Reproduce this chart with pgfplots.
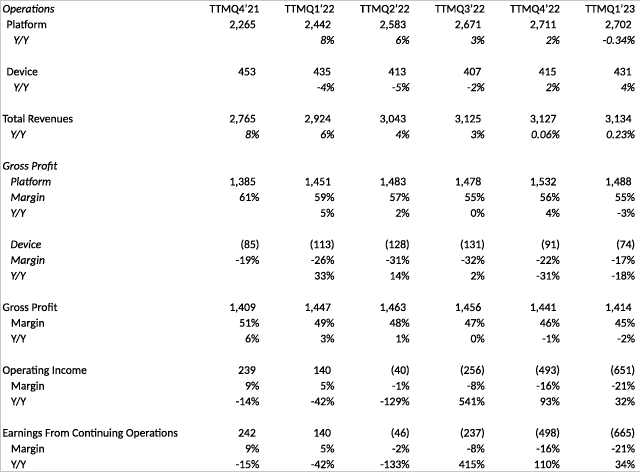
\documentclass[border=0pt]{standalone}
\usepackage{fontspec}
\setmainfont{Carlito}[FakeBold=0.25]
\usepackage{pgfplots}
\pgfplotsset{compat=1.18}
\definecolor{rule}{HTML}{C6C6C6}

% one style for the table cells: text nodes put by nodes near coords
\pgfplotsset{
  cellbase/.style={only marks, mark=none, forget plot,
    nodes near coords, point meta=explicit symbolic,
    every node near coord/.append style={inner sep=0pt, outer sep=0pt,
      text=black, font=\fontsize{11.6bp}{14bp}\selectfont#1}},
  lab/.style={cellbase=\upshape, every node near coord/.append style={anchor=base west}},
  labit/.style={cellbase=\itshape, every node near coord/.append style={anchor=base west}},
  val/.style={cellbase=\upshape, every node near coord/.append style={anchor=base east}},
  valit/.style={cellbase=\itshape, every node near coord/.append style={anchor=base east}},
}

\begin{document}
\begin{tikzpicture}
\begin{axis}[
    width=640bp, height=473bp, scale only axis,
    xmin=0, xmax=640, ymin=0, ymax=473,
    y dir=reverse,
    hide axis, clip=false,
]
% row labels
\addplot[labit] coordinates {
  (2.5,12.5)[Operations]
  (13.5,43.9)[Y/Y]
  (13.5,91.1)[Y/Y]
  (10.5,138.3)[Y/Y]
  (2.5,169.7)[Gross Profit]
  (10.5,185.4)[Platform]
  (10.5,201.1)[Margin]
  (10.5,216.9)[Y/Y]
  (10.5,248.3)[Device]
  (10.5,264.0)[Margin]
  (10.5,279.7)[Y/Y]
};
\addplot[lab] coordinates {
  (6.5,28.2)[Platform]
  (6.5,75.4)[Device]
  (2.5,122.5)[Total Revenues]
  (2.5,311.2)[Gross Profit]
  (11,326.9)[Margin]
  (11,342.6)[Y/Y]
  (2.5,374.1)[Operating Income]
  (11,389.8)[Margin]
  (11,405.5)[Y/Y]
  (2.5,436.9)[Earnings From Continuing Operations]
  (11,452.7)[Margin]
  (11,468.4)[Y/Y]
};
% column heads
\addplot[val] coordinates {
  (259.5,12.5)[TTMQ4'21] (334.7,12.5)[TTMQ1'22] (409.9,12.5)[TTMQ2'22]
  (485.1,12.5)[TTMQ3'22] (560.3,12.5)[TTMQ4'22] (635.5,12.5)[TTMQ1'23]
};
% plain numbers (room kept for the closing parenthesis)
\addplot[val] coordinates {
  (256,28.2)[2,265] (331.2,28.2)[2,442] (406.4,28.2)[2,583] (481.6,28.2)[2,671] (556.8,28.2)[2,711] (632,28.2)[2,702]
  (256,75.4)[453] (331.2,75.4)[435] (406.4,75.4)[413] (481.6,75.4)[407] (556.8,75.4)[415] (632,75.4)[431]
  (256,122.5)[2,765] (331.2,122.5)[2,924] (406.4,122.5)[3,043] (481.6,122.5)[3,125] (556.8,122.5)[3,127] (632,122.5)[3,134]
  (256,185.4)[1,385] (331.2,185.4)[1,451] (406.4,185.4)[1,483] (481.6,185.4)[1,478] (556.8,185.4)[1,532] (632,185.4)[1,488]
  (256,311.2)[1,409] (331.2,311.2)[1,447] (406.4,311.2)[1,463] (481.6,311.2)[1,456] (556.8,311.2)[1,441] (632,311.2)[1,414]
  (256,374.1)[239] (331.2,374.1)[140]
  (256,436.9)[242] (331.2,436.9)[140]
};
% italic growth rows
\addplot[valit] coordinates {
  (334.7,43.9)[8\%] (409.9,43.9)[6\%] (485.1,43.9)[3\%] (560.3,43.9)[2\%] (635.5,43.9)[-0.34\%]
  (334.7,91.1)[-4\%] (409.9,91.1)[-5\%] (485.1,91.1)[-2\%] (560.3,91.1)[2\%] (635.5,91.1)[4\%]
  (259.5,138.3)[8\%] (334.7,138.3)[6\%] (409.9,138.3)[4\%] (485.1,138.3)[3\%] (560.3,138.3)[0.06\%] (635.5,138.3)[0.23\%]
};
% percents and negatives
\addplot[val] coordinates {
  (259.5,201.1)[61\%] (334.7,201.1)[59\%] (409.9,201.1)[57\%] (485.1,201.1)[55\%] (560.3,201.1)[56\%] (635.5,201.1)[55\%]
  (334.7,216.9)[5\%] (409.9,216.9)[2\%] (485.1,216.9)[0\%] (560.3,216.9)[4\%] (635.5,216.9)[-3\%]
  (259.5,248.3)[(85)] (334.7,248.3)[(113)] (409.9,248.3)[(128)] (485.1,248.3)[(131)] (560.3,248.3)[(91)] (635.5,248.3)[(74)]
  (259.5,264.0)[-19\%] (334.7,264.0)[-26\%] (409.9,264.0)[-31\%] (485.1,264.0)[-32\%] (560.3,264.0)[-22\%] (635.5,264.0)[-17\%]
  (334.7,279.7)[33\%] (409.9,279.7)[14\%] (485.1,279.7)[2\%] (560.3,279.7)[-31\%] (635.5,279.7)[-18\%]
  (259.5,326.9)[51\%] (334.7,326.9)[49\%] (409.9,326.9)[48\%] (485.1,326.9)[47\%] (560.3,326.9)[46\%] (635.5,326.9)[45\%]
  (259.5,342.6)[6\%] (334.7,342.6)[3\%] (409.9,342.6)[1\%] (485.1,342.6)[0\%] (560.3,342.6)[-1\%] (635.5,342.6)[-2\%]
  (409.9,374.1)[(40)] (485.1,374.1)[(256)] (560.3,374.1)[(493)] (635.5,374.1)[(651)]
  (259.5,389.8)[9\%] (334.7,389.8)[5\%] (409.9,389.8)[-1\%] (485.1,389.8)[-8\%] (560.3,389.8)[-16\%] (635.5,389.8)[-21\%]
  (259.5,405.5)[-14\%] (334.7,405.5)[-42\%] (409.9,405.5)[-129\%] (485.1,405.5)[541\%] (560.3,405.5)[93\%] (635.5,405.5)[32\%]
  (409.9,436.9)[(46)] (485.1,436.9)[(237)] (560.3,436.9)[(498)] (635.5,436.9)[(665)]
  (259.5,452.7)[9\%] (334.7,452.7)[5\%] (409.9,452.7)[-2\%] (485.1,452.7)[-8\%] (560.3,452.7)[-16\%] (635.5,452.7)[-21\%]
  (259.5,468.4)[-15\%] (334.7,468.4)[-42\%] (409.9,468.4)[-133\%] (485.1,468.4)[415\%] (560.3,468.4)[110\%] (635.5,468.4)[34\%]
};
% frame of the sheet
\draw[rule, line width=1bp] (axis cs:640,0.5) -- (axis cs:0.5,0.5) -- (axis cs:0.5,472) -- (axis cs:640,472);
\end{axis}
\end{tikzpicture}
\end{document}
